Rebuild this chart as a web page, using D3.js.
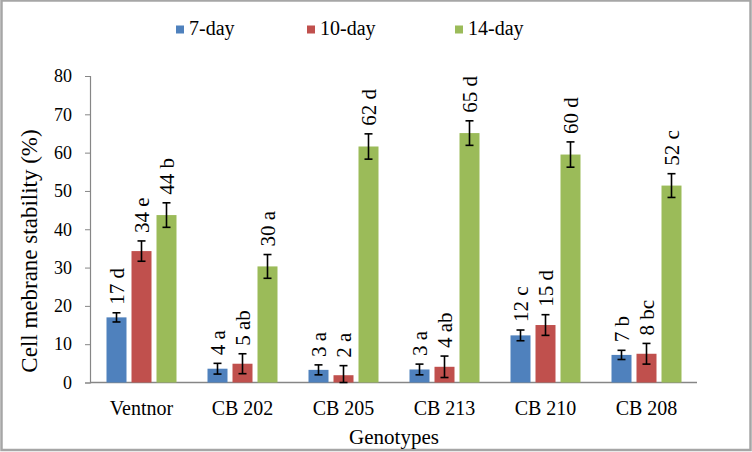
<!DOCTYPE html>
<html><head><meta charset="utf-8">
<script src="https://cdn.jsdelivr.net/npm/d3@7/dist/d3.min.js"></script>
<style>body{margin:0;background:#fff}svg{display:block}</style>
</head><body><svg id="c" width="752" height="452"></svg>
<script>
const categories = ["Ventnor","CB 202","CB 205","CB 213","CB 210","CB 208"];
const seriesNames = ["7-day","10-day","14-day"];
const seriesColors = ["#4F81BD","#C0504D","#9BBB59"];
const day7 = [17.0, 3.6, 3.3, 3.4, 12.3, 7.2];
const day10 = [34.3, 4.9, 1.9, 4.1, 15.0, 7.5];
const day14 = [43.7, 30.3, 61.6, 65.1, 59.5, 51.4];
const err7 = [1.2, 1.4, 1.3, 1.4, 1.4, 1.2];
const err10 = [2.65, 2.6, 2.5, 2.8, 2.7, 2.7];
const err14 = [3.2, 3.1, 3.3, 3.2, 3.3, 3.1];
const lab7 = ["17 d","4 a","3 a","3 a","12 c","7 b"];
const lab10 = ["34 e","5 ab","2 a","4 ab","15 d","8 bc"];
const lab14 = ["44 b","30 a","62 d","65 d","60 d","52 c"];
const yTicks = [0,10,20,30,40,50,60,70,80];

const values = [day7, day10, day14];
const errs = [err7, err10, err14];
const labs = [lab7, lab10, lab14];
const FONT = "'Liberation Serif', 'Times New Roman', serif";

const svg = d3.select("#c");
svg.append("rect").attr("x",1.5).attr("y",0.5).attr("width",749).attr("height",449.5)
  .attr("fill","#fff").attr("stroke","#a6a6a6").attr("stroke-width",2.5);

const x0 = d3.scaleBand().domain(categories).range([91,697]).padding(0);
const groupW = 75;
const x1 = d3.scaleBand().domain(seriesNames).range([0,groupW]).paddingInner(0.2).paddingOuter(0.1);
const y = d3.scaleLinear().domain([0,80]).range([382.5,76]);

// y axis
const ya = svg.append("g").attr("transform","translate(90,0)")
  .call(d3.axisLeft(y).tickValues(yTicks).tickSize(5).tickPadding(13));
ya.select(".domain").attr("stroke","#868686").attr("stroke-width",1.2);
ya.selectAll(".tick line").attr("stroke","#868686");
ya.selectAll(".tick text").style("font-size","18px");

// x axis line
const xa = svg.append("g").attr("transform","translate(0,382.5)")
  .call(d3.axisBottom(x0).tickSize(0).tickPadding(18));
xa.select(".domain").attr("stroke","#868686").attr("stroke-width",1.5).attr("d","M90,0H697");
xa.selectAll(".tick text").style("font-size","20px").attr("dy","0.71em");

const groups = svg.append("g").selectAll("g").data(categories).join("g")
  .attr("transform", c => `translate(${x0(c)+(x0.bandwidth()-groupW)/2},0)`);

seriesNames.forEach((s,si)=>{
  groups.append("rect")
    .attr("x", x1(s)).attr("width", x1.bandwidth())
    .attr("y", (c,i)=>y(values[si][i])).attr("height",(c,i)=>y(0)-y(values[si][i]))
    .attr("fill", seriesColors[si]);
  const cx = x1(s)+x1.bandwidth()/2;
  const eb = groups.append("g").attr("stroke","#000").attr("stroke-width",1.6);
  eb.append("line").attr("x1",cx).attr("x2",cx)
    .attr("y1",(c,i)=>y(values[si][i]+errs[si][i]))
    .attr("y2",(c,i)=>y(Math.max(0,values[si][i]-errs[si][i])));
  eb.append("line").attr("x1",cx-4).attr("x2",cx+4)
    .attr("y1",(c,i)=>y(values[si][i]+errs[si][i])).attr("y2",(c,i)=>y(values[si][i]+errs[si][i]));
  eb.append("line").attr("x1",cx-4).attr("x2",cx+4)
    .attr("y1",(c,i)=>y(Math.max(0,values[si][i]-errs[si][i]))).attr("y2",(c,i)=>y(Math.max(0,values[si][i]-errs[si][i])));
  groups.append("text")
    .attr("transform",(c,i)=>`translate(${cx},${y(values[si][i]+errs[si][i])-8}) rotate(-90)`)
    .attr("dy","0.35em").attr("text-anchor","start")
    .style("font-size","21px").text((c,i)=>labs[si][i]);
});

// legend
const legX = [176, 307, 455];
seriesNames.forEach((s,i)=>{
  svg.append("rect").attr("x",legX[i]).attr("y",25.5).attr("width",8).attr("height",8).attr("fill",seriesColors[i]);
  svg.append("text").attr("x",legX[i]+13).attr("y",35).style("font-size","20px").text(s);
});

// axis titles
svg.append("text").attr("x",394).attr("y",444).attr("text-anchor","middle").style("font-size","21px").text("Genotypes");
svg.append("text").attr("transform","translate(37,251) rotate(-90)").attr("text-anchor","middle").style("font-size","23px").text("Cell mebrane stability (%)");

svg.selectAll("text").style("font-family", FONT).attr("fill","#000");
</script></body></html>
